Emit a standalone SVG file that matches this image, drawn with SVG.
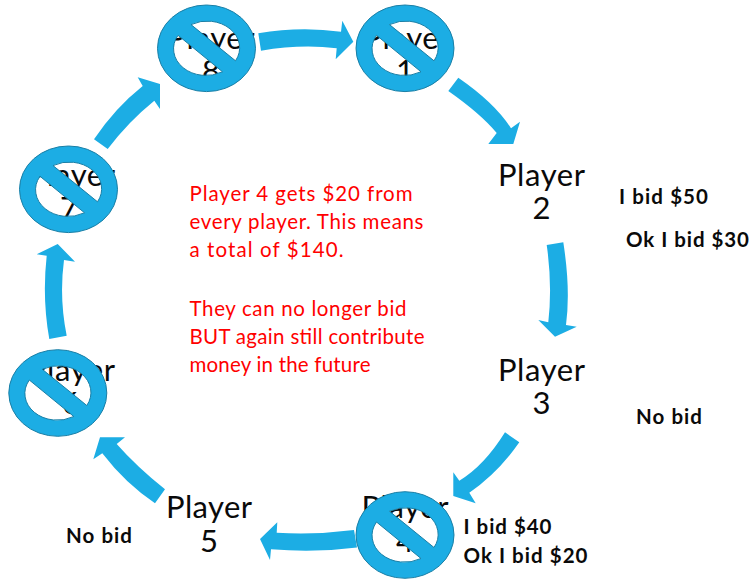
<svg xmlns="http://www.w3.org/2000/svg" width="754" height="581" viewBox="0 0 754 581">
<style>
text{font-family:"Lato","Noto Sans",sans-serif}
.p{font-size:31px;fill:#0a0a0a;text-anchor:middle}
.b{font-size:20.5px;font-weight:700;fill:#0a0a0a}
.r{font-size:20.5px;fill:#ff0000}
.a{fill:#1cade4}
.s{fill:#1cade4;stroke:#1a7fa6;stroke-width:1;fill-rule:evenodd}
</style>
<defs>
<path id="no" class="s" d="M-49 0A49 43.3 0 1 1 49 0A49 43.3 0 1 1 -49 0ZM-15.5 -23.7L29 12.5A32.5 26.7 0 0 0 -15.5 -23.7ZM-28.5 -13A32.5 26.7 0 0 0 16 23.5Z"/>
</defs>
<rect width="754" height="581" fill="#ffffff"/>
<g id="connectors">
<path class="a" d="M258.3 33.3Q300 26 341 31.7L342.3 20.7L353.3 41.7L335.7 59.3L336.7 48.3Q301 44 261 50.7Z"/>
<path class="a" d="M458.3 77.7Q495 103 511 128.3L520 121.7L513.3 144L488.3 144L496.7 133Q481 114 448.3 91Z"/>
<path class="a" d="M563.3 242.3Q570.7 289.7 566 325L576.7 326.7L555 336.7L538.3 320L548.3 322.3Q552.5 285 546.7 245Z"/>
<path class="a" d="M505 432.3Q484 466 459.3 480.7L453.3 472.3L453.3 496L475.7 503.3L469.3 492.7Q498 473 519.3 442.3Z"/>
<path class="a" d="M354 530Q315 535 276.7 532.7L277.3 522.3L260 539L270 560L271 549.3Q315 553 357 547.5Z"/>
<path class="a" d="M165 489.3Q137 467 116.7 444L125 437.3L100 437.3L93.3 459.3L102.3 453.3Q125 483 155 503.3Z"/>
<path class="a" d="M49.3 339Q42 298 46.7 255.7L36.7 254.3L57.7 244L75 261.7L64 260Q59 298 66.7 335.7Z"/>
<path class="a" d="M94 139.3Q115 108 142.7 86L137.7 77.3L160 84L160 109L154.3 100.7Q128 122 107.7 149Z"/>
</g>
<g id="player1"><text class="p" x="407" y="49" textLength="87">Player</text><text class="p" x="405" y="82">1</text><use href="#no" x="405" y="48.3"/></g>
<g id="player2"><text class="p" x="541.5" y="186" textLength="87">Player</text><text class="p" x="541.5" y="219">2</text></g>
<g id="player3"><text class="p" x="541.5" y="381" textLength="87">Player</text><text class="p" x="541.5" y="414">3</text></g>
<g id="player4"><text class="p" x="405" y="518" textLength="87">Player</text><text class="p" x="405" y="552">4</text><use href="#no" x="405" y="535"/></g>
<g id="player5"><text class="p" x="209" y="518" textLength="86">Player</text><text class="p" x="209" y="551.5">5</text></g>
<g id="player6"><text class="p" x="71.5" y="381" textLength="87">Player</text><text class="p" x="71.5" y="414">6</text><use href="#no" x="57.8" y="393"/></g>
<g id="player7"><text class="p" x="71.5" y="186" textLength="87">Player</text><text class="p" x="69" y="219">7</text><use href="#no" x="68.5" y="189.3"/></g>
<g id="player8"><text class="p" x="211" y="49" textLength="87">Player</text><text class="p" x="211" y="82">8</text><use href="#no" x="206.5" y="48.3"/></g>
<g id="bids">
<text class="b" x="619" y="203.5" textLength="89">I bid $50</text>
<text class="b" x="626" y="246.7" textLength="123">Ok I bid $30</text>
<text class="b" x="636" y="424" textLength="66">No bid</text>
<text class="b" x="463.5" y="534.3" textLength="88">I bid $40</text>
<text class="b" x="463.5" y="563" textLength="124">Ok I bid $20</text>
<text class="b" x="66" y="542.7" textLength="66">No bid</text>
</g>
<g id="note">
<text class="r" x="189.5" y="200.7" textLength="223">Player 4 gets $20 from</text>
<text class="r" x="189.5" y="229.3" textLength="234">every player. This means</text>
<text class="r" x="189.5" y="257.3" textLength="154">a total of $140.</text>
<text class="r" x="189.5" y="316" textLength="217">They can no longer bid</text>
<text class="r" x="189.5" y="344" textLength="235">BUT again still contribute</text>
<text class="r" x="189.5" y="372.3" textLength="181">money in the future</text>
</g>
</svg>
